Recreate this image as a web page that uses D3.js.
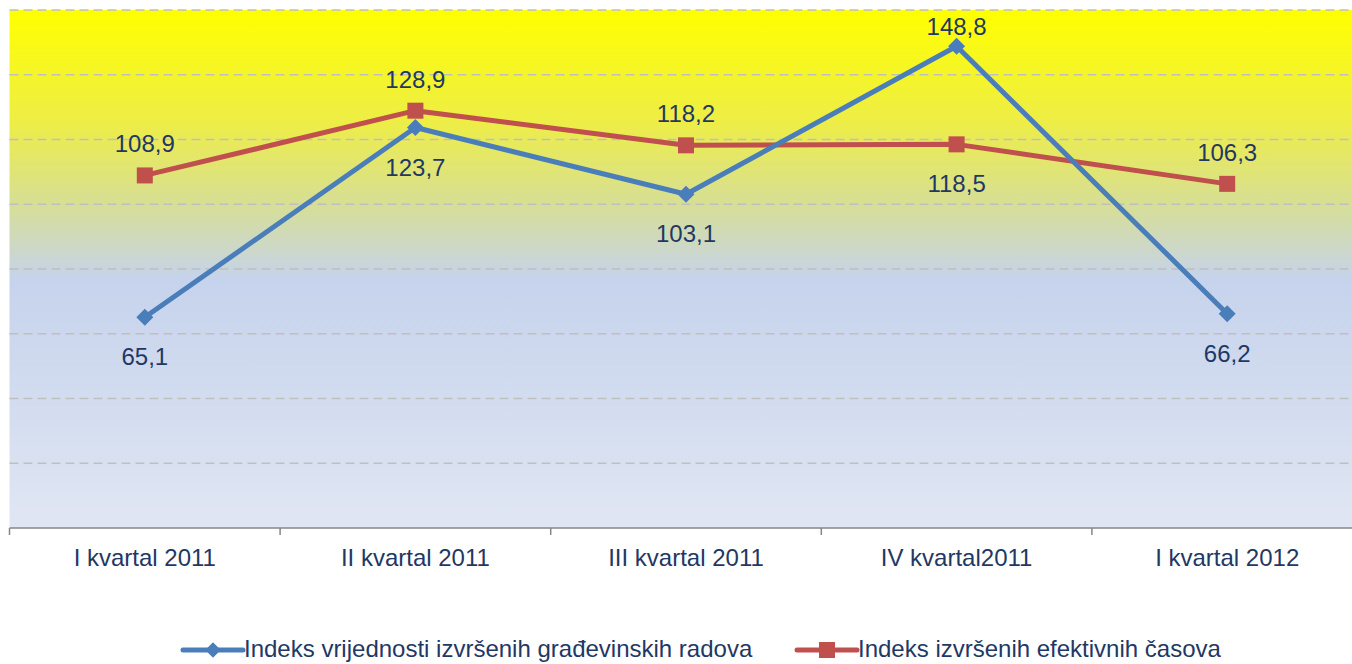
<!DOCTYPE html>
<html>
<head>
<meta charset="utf-8">
<script src="https://cdn.jsdelivr.net/npm/d3@7"></script>
<style>
  body { margin: 0; background: #fff; }
  svg text { font-family: "Liberation Sans", Arial, sans-serif; fill: #1f3864; }
</style>
</head>
<body>
<div id="chart"></div>
<script>
// data
const categories = ["I kvartal 2011", "II kvartal 2011", "III kvartal 2011", "IV kvartal2011", "I kvartal 2012"];
const seriesNames = ["Indeks vrijednosti izvršenih građevinskih radova", "Indeks izvršenih efektivnih časova"];
const gradjevinski = [65.1, 123.7, 103.1, 148.8, 66.2];
const casovi = [108.9, 128.9, 118.2, 118.5, 106.3];
const gradjevinskiLabelPos = ["below", "below", "below", "above", "below"];
const casoviLabelPos = ["above", "above", "above", "below", "above"];
const yTicks = [0, 20, 40, 60, 80, 100, 120, 140, 160];

const W = 1352, H = 664;
const margin = { top: 10, left: 9.5 };
const plotW = 1353, plotH = 518;

const svg = d3.select("#chart").append("svg")
  .attr("width", W).attr("height", H);

// background gradient
const defs = svg.append("defs");
const grad = defs.append("linearGradient")
  .attr("id", "bg").attr("x1", 0).attr("y1", 0).attr("x2", 0).attr("y2", 1);
[["0%", "#ffff00"], ["22%", "#eded48"], ["38%", "#d6de98"], ["52%", "#c6d3ec"], ["100%", "#e0e6f3"]]
  .forEach(s => grad.append("stop").attr("offset", s[0]).attr("stop-color", s[1]));

const g = svg.append("g").attr("transform", `translate(${margin.left},${margin.top})`);

const x = d3.scaleBand().domain(categories).range([0, plotW]);
const y = d3.scaleLinear().domain([0, 160]).range([plotH, 0]);

g.append("rect").attr("width", plotW).attr("height", plotH).attr("fill", "url(#bg)");

// grid
g.append("g").selectAll("line").data(yTicks.filter(t => t > 0)).join("line")
  .attr("x1", 0).attr("x2", plotW)
  .attr("y1", d => y(d)).attr("y2", d => y(d))
  .attr("stroke", "#bfbfbf").attr("stroke-width", 1.3)
  .attr("stroke-dasharray", "9,5");

// x axis
const xAxis = g.append("g").attr("transform", `translate(0,${plotH})`);
xAxis.append("line").attr("x1", 0).attr("x2", plotW).attr("stroke", "#868686").attr("stroke-width", 1.5);
xAxis.selectAll(".tick").data(categories).join("line")
  .attr("x1", d => x(d)).attr("x2", d => x(d))
  .attr("y1", 0).attr("y2", 7)
  .attr("stroke", "#868686").attr("stroke-width", 1.5);
xAxis.selectAll("text").data(categories).join("text")
  .attr("x", d => x(d) + x.bandwidth() / 2)
  .attr("y", 38)
  .attr("text-anchor", "middle")
  .style("font-size", "24px")
  .text(d => d);

const cx = c => x(c) + x.bandwidth() / 2;
const fmt = v => v.toFixed(1).replace(".", ",");

// Excel style markers: square, and a square turned 45 degrees
function marker(sel, shape, color, size) {
  sel.append("rect")
    .attr("x", -size / 2).attr("y", -size / 2)
    .attr("width", size).attr("height", size)
    .attr("transform", shape === "diamond" ? "rotate(45)" : null)
    .attr("fill", color);
}

function drawSeries(values, positions, color, shape) {
  const pts = categories.map((c, i) => ({ c: c, v: values[i], pos: positions[i] }));
  g.append("path")
    .attr("d", d3.line().x(d => cx(d.c)).y(d => y(d.v))(pts))
    .attr("fill", "none").attr("stroke", color).attr("stroke-width", 5)
    .attr("stroke-linejoin", "round");
  g.append("g").selectAll("g").data(pts).join("g")
    .attr("transform", d => `translate(${cx(d.c)},${y(d.v)})`)
    .each(function() { marker(d3.select(this), shape, color, shape === "diamond" ? 12 : 16); });
  g.append("g").selectAll("text").data(pts).join("text")
    .attr("x", d => cx(d.c))
    .attr("y", d => y(d.v) + (d.pos === "above" ? (d.v > 140 ? -11 : -23) : 48))
    .attr("text-anchor", "middle")
    .style("font-size", "24px")
    .text(d => fmt(d.v));
}

drawSeries(casovi, casoviLabelPos, "#c0504d", "square");
drawSeries(gradjevinski, gradjevinskiLabelPos, "#4a7ebb", "diamond");

// legend
const legend = svg.append("g").attr("transform", "translate(0,650)");
const legendItems = [
  { name: seriesNames[0], color: "#4a7ebb", shape: "diamond", x: 183 },
  { name: seriesNames[1], color: "#c0504d", shape: "square", x: 797 }
];
legendItems.forEach(it => {
  legend.append("line").attr("x1", it.x).attr("x2", it.x + 60)
    .attr("stroke", it.color).attr("stroke-width", 5).attr("stroke-linecap", "round");
  const m = legend.append("g").attr("transform", `translate(${it.x + 30},0)`);
  marker(m, it.shape, it.color, it.shape === "diamond" ? 11 : 16);
  legend.append("text").attr("x", it.x + 61).attr("y", 7)
    .style("font-size", "24px").text(it.name);
});
</script>
</body>
</html>
